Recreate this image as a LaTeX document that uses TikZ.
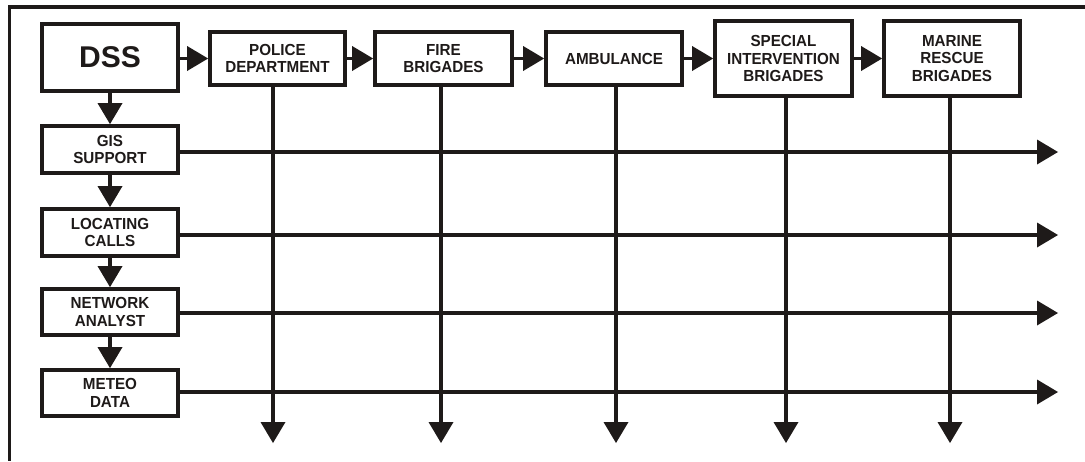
\documentclass[tikz,border=0pt]{standalone}
\usepackage{fontspec}
\setmainfont{Liberation Sans}
\newfontfamily\narrowsans{Liberation Sans}[FakeStretch=0.95]
\usetikzlibrary{arrows.meta}
\definecolor{ink}{RGB}{30,26,25}
\begin{document}
\begin{tikzpicture}[x=1pt,y=-1pt,
  box/.style={draw=ink,line width=3.8pt,fill=white,inner sep=0pt,align=center,
    font=\narrowsans\fontsize{16}{17.5}\selectfont\bfseries,text=ink},
  conn/.style={draw=ink,line width=3.8pt,-{Triangle[length=21pt,width=25pt,line width=0pt]}},
  plain/.style={draw=ink,line width=3.8pt}]
\useasboundingbox (0,0) rectangle (1085,461);
\draw[plain,line cap=butt] (1085,7) -- (9.5,7) -- (9.5,461);
% left column
\node[box,minimum width=136pt,minimum height=67pt,font=\fontsize{30}{32}\selectfont\bfseries] (dss) at (110,57.5) {DSS};
\node[box,minimum width=136pt,minimum height=47pt] (gis) at (110,149.5) {GIS\\SUPPORT};
\node[box,minimum width=136pt,minimum height=47pt] (loc) at (110,232.5) {LOCATING\\CALLS};
\node[box,minimum width=136pt,minimum height=46pt] (net) at (110,312) {NETWORK\\ANALYST};
\node[box,minimum width=136pt,minimum height=46pt] (met) at (110,393) {METEO\\DATA};
% top row
\node[box,minimum width=135pt,minimum height=53pt] (pol) at (277.5,58.5) {POLICE\\DEPARTMENT};
\node[box,minimum width=137pt,minimum height=53pt] (fire) at (443.5,58.5) {FIRE\\BRIGADES};
\node[box,minimum width=136pt,minimum height=53pt] (amb) at (614,58.5) {AMBULANCE};
\node[box,minimum width=137pt,minimum height=75pt] (spe) at (783.5,58.5) {SPECIAL\\INTERVENTION\\BRIGADES};
\node[box,minimum width=136pt,minimum height=75pt] (mar) at (952,58.5) {MARINE\\RESCUE\\BRIGADES};
% end points
\coordinate (pe) at (273,443);
\coordinate (fe) at (441,443);
\coordinate (ae) at (616,443);
\coordinate (se) at (786,443);
\coordinate (me) at (950,443);
\coordinate (ge) at (1058,152);
\coordinate (le) at (1058,235);
\coordinate (ne) at (1058,313);
\coordinate (te) at (1058,392);
% horizontal lines from left boxes (drawn first)
\draw[conn] (gis.east |- ge) -- (ge);
\draw[conn] (loc.east |- le) -- (le);
\draw[conn] (net.east |- ne) -- (ne);
\draw[conn] (met.east |- te) -- (te);
% vertical lines from top boxes
\draw[conn] (pol.south -| pe) -- (pe);
\draw[conn] (fire.south -| fe) -- (fe);
\draw[conn] (amb.south -| ae) -- (ae);
\draw[conn] (spe.south -| se) -- (se);
\draw[conn] (mar.south -| me) -- (me);
% top row chain
\draw[conn] (dss.east |- pol) -- (pol.west);
\draw[conn] (pol.east) -- (fire.west);
\draw[conn] (fire.east) -- (amb.west);
\draw[conn] (amb.east) -- (spe.west);
\draw[conn] (spe.east) -- (mar.west);
% left chain
\draw[conn] (dss.south) -- (gis.north);
\draw[conn] (gis.south) -- (loc.north);
\draw[conn] (loc.south) -- (net.north);
\draw[conn] (net.south) -- (met.north);
\end{tikzpicture}
\end{document}
